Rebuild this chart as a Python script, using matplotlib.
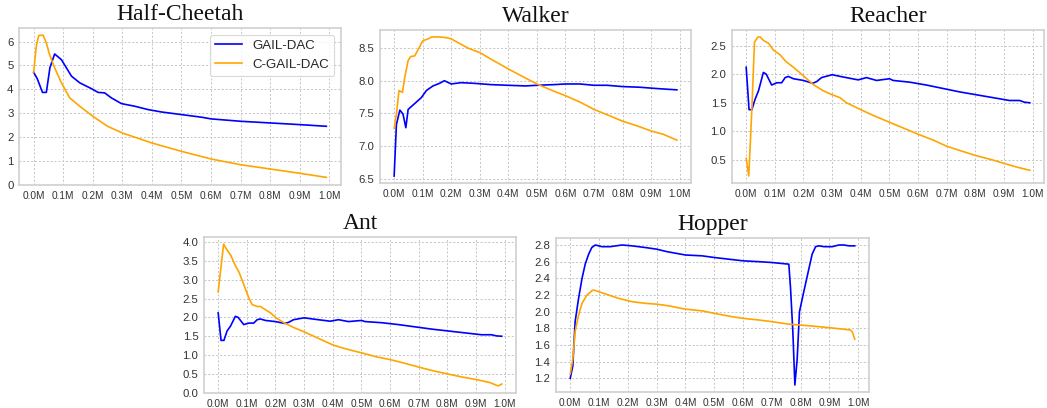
import matplotlib
matplotlib.use("Agg")
import matplotlib.pyplot as plt

# ---------------- data (x in millions of steps) ----------------
hc_gail_x = [0.0, 0.012, 0.03, 0.043, 0.055, 0.071, 0.094, 0.128, 0.156, 0.195, 0.218, 0.24, 0.263, 0.297,
             0.342, 0.387, 0.432, 0.5, 0.568, 0.6, 0.7, 0.8, 0.9, 0.99]
hc_gail_y = [4.71, 4.45, 3.87, 3.87, 4.9, 5.48, 5.24, 4.55, 4.27, 4.03, 3.87, 3.85, 3.64, 3.40,
             3.29, 3.15, 3.05, 2.94, 2.83, 2.76, 2.66, 2.59, 2.52, 2.45]
hc_cgail_x = [0.0, 0.009, 0.017, 0.032, 0.043, 0.054, 0.071, 0.094, 0.122, 0.156, 0.2, 0.25, 0.3,
              0.4, 0.5, 0.6, 0.7, 0.8, 0.9, 0.99]
hc_cgail_y = [4.71, 5.8, 6.25, 6.27, 5.94, 5.45, 4.9, 4.27, 3.64, 3.29, 2.87, 2.45, 2.17,
              1.75, 1.40, 1.08, 0.84, 0.66, 0.48, 0.31]

wk_gail_x = [0.0, 0.008, 0.02, 0.031, 0.041, 0.049, 0.072, 0.095, 0.113, 0.136, 0.159, 0.176, 0.2,
             0.234, 0.28, 0.339, 0.397, 0.46, 0.5, 0.56, 0.6, 0.65, 0.7, 0.745, 0.8, 0.86, 0.92,
             0.954, 0.99]
wk_gail_y = [6.54, 7.33, 7.55, 7.49, 7.28, 7.56, 7.65, 7.74, 7.85, 7.92, 7.96, 8.0, 7.95,
             7.97, 7.96, 7.94, 7.93, 7.92, 7.93, 7.94, 7.95, 7.95, 7.93, 7.93, 7.91, 7.90, 7.88,
             7.87, 7.86]
wk_cgail_x = [0.0, 0.008, 0.017, 0.029, 0.037, 0.049, 0.058, 0.072, 0.087, 0.1, 0.118, 0.132, 0.159,
              0.182, 0.2, 0.229, 0.258, 0.3, 0.339, 0.4, 0.443, 0.5, 0.548, 0.6, 0.652, 0.7,
              0.756, 0.8, 0.85, 0.9, 0.942, 0.99]
wk_cgail_y = [7.27, 7.49, 7.85, 7.82, 8.05, 8.31, 8.37, 8.38, 8.50, 8.61, 8.64, 8.67, 8.67,
              8.66, 8.64, 8.57, 8.50, 8.43, 8.33, 8.18, 8.08, 7.95, 7.86, 7.77, 7.67, 7.56,
              7.46, 7.38, 7.31, 7.23, 7.18, 7.09]

re_gail_x = [0.0, 0.01, 0.02, 0.031, 0.043, 0.06, 0.07, 0.089, 0.107, 0.124, 0.136, 0.147, 0.165,
             0.2, 0.232, 0.246, 0.263, 0.3, 0.339, 0.391, 0.42, 0.455, 0.5, 0.513, 0.571, 0.629,
             0.687, 0.745, 0.803, 0.861, 0.919, 0.954, 0.971, 0.99]
re_gail_y = [2.12, 1.38, 1.38, 1.56, 1.71, 2.03, 2.00, 1.81, 1.85, 1.85, 1.94, 1.96, 1.92,
             1.89, 1.84, 1.87, 1.94, 1.99, 1.95, 1.90, 1.94, 1.89, 1.92, 1.89, 1.86, 1.81,
             1.75, 1.69, 1.64, 1.59, 1.54, 1.54, 1.51, 1.50]
re_cgail_x = [0.0, 0.009, 0.02, 0.029, 0.041, 0.049, 0.06, 0.078, 0.095, 0.118, 0.139, 0.165, 0.2,
              0.234, 0.269, 0.3, 0.327, 0.35, 0.4, 0.443, 0.5, 0.548, 0.6, 0.652, 0.7, 0.756,
              0.8, 0.861, 0.9, 0.942, 0.99]
re_cgail_y = [0.53, 0.22, 1.41, 2.56, 2.65, 2.65, 2.59, 2.54, 2.42, 2.34, 2.22, 2.12, 1.97,
              1.82, 1.71, 1.64, 1.59, 1.50, 1.38, 1.28, 1.16, 1.06, 0.95, 0.85, 0.74, 0.65,
              0.58, 0.50, 0.44, 0.38, 0.32]

ant_gail_x = list(re_gail_x)
ant_gail_y = [2.12, 1.39, 1.39, 1.64, 1.77, 2.03, 2.00, 1.81, 1.85, 1.85, 1.94, 1.96, 1.92,
              1.89, 1.84, 1.87, 1.94, 1.99, 1.95, 1.90, 1.94, 1.89, 1.92, 1.89, 1.86, 1.81,
              1.75, 1.69, 1.64, 1.59, 1.54, 1.54, 1.51, 1.50]
ant_cgail_x = [0.0, 0.019, 0.027, 0.044, 0.061, 0.073, 0.09, 0.108, 0.119, 0.137, 0.148, 0.166,
               0.183, 0.2, 0.229, 0.264, 0.299, 0.334, 0.368, 0.4, 0.438, 0.473, 0.5, 0.554,
               0.6, 0.647, 0.7, 0.751, 0.8, 0.855, 0.9, 0.948, 0.977, 0.99]
ant_cgail_y = [2.68, 3.95, 3.84, 3.65, 3.36, 3.20, 2.86, 2.50, 2.34, 2.29, 2.29, 2.20,
               2.12, 2.00, 1.86, 1.73, 1.62, 1.50, 1.38, 1.27, 1.18, 1.11, 1.06, 0.95,
               0.88, 0.79, 0.68, 0.58, 0.50, 0.41, 0.35, 0.27, 0.18, 0.23]

hop_gail_x = [0.0, 0.009, 0.017, 0.029, 0.041, 0.052, 0.064, 0.075, 0.087, 0.099, 0.11, 0.139,
              0.18, 0.214, 0.26, 0.3, 0.336, 0.4, 0.458, 0.5, 0.55, 0.6, 0.655, 0.7, 0.759,
              0.765, 0.773, 0.78, 0.788, 0.796, 0.811, 0.829, 0.84, 0.852, 0.863, 0.881, 0.91,
              0.933, 0.95, 0.968, 0.988]
hop_gail_y = [1.20, 1.35, 1.88, 2.16, 2.40, 2.57, 2.69, 2.77, 2.80, 2.79, 2.78, 2.78,
              2.80, 2.79, 2.77, 2.75, 2.72, 2.68, 2.67, 2.65, 2.63, 2.61, 2.60, 2.59, 2.57,
              2.28, 1.76, 1.12, 1.43, 2.00, 2.24, 2.52, 2.69, 2.78, 2.79, 2.78, 2.78,
              2.80, 2.80, 2.79, 2.79]
hop_cgail_x = [0.0, 0.009, 0.017, 0.029, 0.041, 0.058, 0.075, 0.081, 0.099, 0.133, 0.168, 0.214,
               0.261, 0.3, 0.342, 0.4, 0.458, 0.5, 0.562, 0.6, 0.655, 0.7, 0.759, 0.8, 0.863,
               0.921, 0.973, 0.979, 0.988]
hop_cgail_y = [1.25, 1.43, 1.76, 1.96, 2.10, 2.20, 2.25, 2.26, 2.24, 2.20, 2.16, 2.12,
               2.10, 2.09, 2.07, 2.03, 2.01, 1.98, 1.94, 1.92, 1.90, 1.88, 1.85, 1.84, 1.82,
               1.80, 1.78, 1.76, 1.67]

titles = ["Half-Cheetah", "Walker", "Reacher", "Ant", "Hopper"]
series_names = ["GAIL-DAC", "C-GAIL-DAC"]
xticks = [0.0, 0.1, 0.2, 0.3, 0.4, 0.5, 0.6, 0.7, 0.8, 0.9, 1.0]
xtick_labels = ["0.0M", "0.1M", "0.2M", "0.3M", "0.4M", "0.5M", "0.6M", "0.7M", "0.8M", "0.9M", "1.0M"]

hc_yticks = [0, 1, 2, 3, 4, 5, 6]
wk_yticks = [6.5, 7.0, 7.5, 8.0, 8.5]
re_yticks = [0.5, 1.0, 1.5, 2.0, 2.5]
ant_yticks = [0.0, 0.5, 1.0, 1.5, 2.0, 2.5, 3.0, 3.5, 4.0]
hop_yticks = [1.2, 1.4, 1.6, 1.8, 2.0, 2.2, 2.4, 2.6, 2.8]
ytick_fmt = ["{:.0f}", "{:.1f}", "{:.1f}", "{:.1f}", "{:.1f}"]

panels = [
    (hc_gail_x, hc_gail_y, hc_cgail_x, hc_cgail_y, hc_yticks),
    (wk_gail_x, wk_gail_y, wk_cgail_x, wk_cgail_y, wk_yticks),
    (re_gail_x, re_gail_y, re_cgail_x, re_cgail_y, re_yticks),
    (ant_gail_x, ant_gail_y, ant_cgail_x, ant_cgail_y, ant_yticks),
    (hop_gail_x, hop_gail_y, hop_cgail_x, hop_cgail_y, hop_yticks),
]

# ---------------- layout ----------------
W, H = 1047, 408
fig = plt.figure(figsize=(W / 100, H / 100), dpi=100)
# (left, right, top, bottom) in pixels
boxes = [
    (19, 341, 28, 185),
    (380, 691, 30, 183),
    (732, 1044, 30, 183),
    (204, 516, 237, 393),
    (556, 869, 238, 392),
]

for i, (title, (gx, gy, cx, cy, yt), (l, r, t, b)) in enumerate(zip(titles, panels, boxes)):
    ax = fig.add_axes([l / W, 1 - b / H, (r - l) / W, (b - t) / H])
    ax.plot(gx, gy, color="blue", lw=1.2, label=series_names[0])
    ax.plot(cx, cy, color="orange", lw=1.2, label=series_names[1])
    if i == 0:
        ax.set_ylim(bottom=-0.01)
    ax.set_xticks(xticks)
    ax.set_xticklabels(xtick_labels)
    ax.set_yticks(yt)
    ax.set_yticklabels([ytick_fmt[i].format(v) for v in yt])
    ax.grid(True, color="#c4c4c4", ls=(0, (2, 2)), lw=0.7)
    ax.set_axisbelow(True)
    for s in ax.spines.values():
        s.set_color("#d0d0d0")
        s.set_linewidth(1.2)
    ax.tick_params(axis="x", length=0, labelsize=7.3, labelcolor="#333333", pad=4)
    ax.tick_params(axis="y", length=0, labelsize=8.2, labelcolor="#333333", pad=4)
    for lab in ax.get_xticklabels() + ax.get_yticklabels():
        lab.set_family("Liberation Sans")
    ax.set_title(title, fontsize=17, family="Liberation Serif", color="#111111", pad=6)
    if i == 0:
        leg = ax.legend(loc="upper right", prop={"family": "Liberation Sans", "size": 9.5},
                        frameon=True, fancybox=True, borderaxespad=0.5)
        leg.get_frame().set_edgecolor("#d0d0d0")
        leg.get_frame().set_linewidth(0.8)
        for tx in leg.get_texts():
            tx.set_color("#262626")

fig.savefig("out.png", dpi=100)
